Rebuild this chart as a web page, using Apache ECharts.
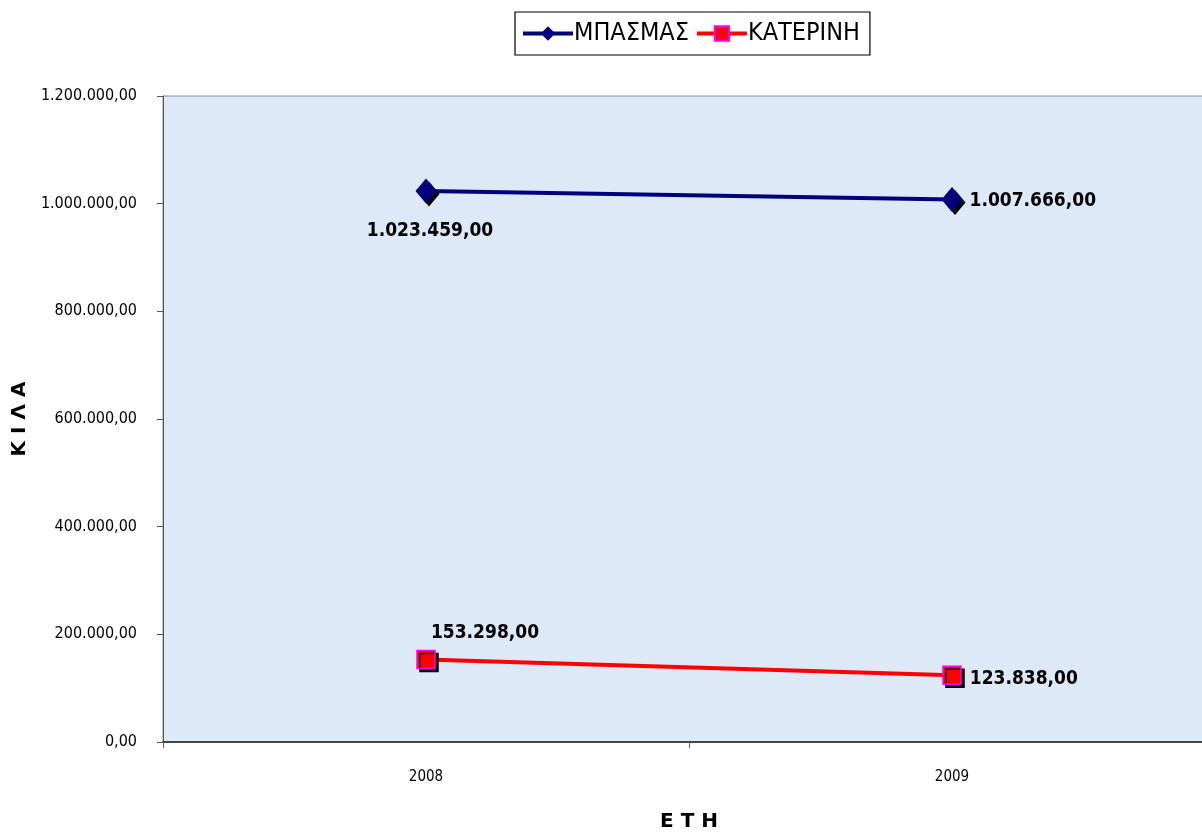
<!DOCTYPE html>
<html>
<head>
<meta charset="utf-8">
<script src="https://cdn.jsdelivr.net/npm/echarts@6/dist/echarts.min.js"></script>
<style>
  html, body { margin: 0; padding: 0; background: #fff; }
  #chart { width: 1202px; height: 834px; }
</style>
</head>
<body>
<div id="chart"></div>
<script>
// Years on the category axis
const years = ['2008', '2009'];
// Quantities in kilos per area
const mpasmasValues = [1023459, 1007666];
const katerinhValues = [153298, 123838];
// Series names
const seriesNames = ['ΜΠΑΣΜΑΣ', 'ΚΑΤΕΡΙΝΗ'];

const NARROW = '"Liberation Sans Narrow", "Arial Narrow", "DejaVu Sans Condensed", sans-serif';

// Greek number format: dot thousands separator, comma decimals
function fmt(v) {
  const parts = Number(v).toFixed(2).split('.');
  parts[0] = parts[0].replace(/\B(?=(\d{3})+(?!\d))/g, '.');
  return parts[0] + ',' + parts[1];
}

const chart = echarts.init(document.getElementById('chart'));

const labelBase = {
  show: true,
  fontFamily: NARROW,
  fontWeight: 'bold',
  fontSize: 19,
  color: '#000',
  formatter: p => fmt(p.value)
};

// per-point label placement
const mpasmasData = mpasmasValues.map((v, i) => ({
  value: v,
  label: i === 0 ? { position: 'bottom', offset: [4, 13] } : { position: 'right', offset: [2, 2] }
}));
const katerinhData = katerinhValues.map((v, i) => ({
  value: v,
  label: i === 0 ? { position: 'top', offset: [59, -2] } : { position: 'right', offset: [3, 4] }
}));

chart.setOption({
  animation: false,
  backgroundColor: '#ffffff',
  legend: {
    top: 12,
    left: 515,
    data: [
      { name: seriesNames[0], itemStyle: { shadowOffsetX: 0, shadowOffsetY: 0 } },
      { name: seriesNames[1], itemStyle: { shadowOffsetX: 0, shadowOffsetY: 0 } }
    ],
    itemWidth: 50,
    itemHeight: 18,
    itemGap: 6,
    padding: [9, 10, 9, 6],
    borderColor: '#000',
    borderWidth: 1.2,
    lineStyle: { width: 4 },
    textStyle: { fontFamily: NARROW, fontSize: 25, color: '#000', padding: [0, 0, 0, -4] }
  },
  grid: {
    left: 163,
    width: 1052,
    top: 96,
    bottom: 92,
    outerBoundsMode: 'none',
    show: true,
    backgroundColor: '#dde9f6',
    borderColor: '#8a8a8a',
    borderWidth: 1
  },
  xAxis: {
    type: 'category',
    data: years,
    boundaryGap: true,
    name: 'Ε Τ Η',
    nameLocation: 'middle',
    nameGap: 70,
    nameTextStyle: { fontFamily: '"DejaVu Sans", sans-serif', fontWeight: 'bold', fontSize: 20, color: '#000' },
    axisLine: { lineStyle: { color: '#444', width: 2 } },
    axisTick: { show: true, length: 6, lineStyle: { color: '#666', width: 1 } },
    axisLabel: { fontFamily: NARROW, fontSize: 15, color: '#000', margin: 28 },
    splitLine: { show: false }
  },
  yAxis: {
    type: 'value',
    min: 0,
    max: 1200000,
    interval: 200000,
    name: 'Κ Ι Λ Α',
    nameLocation: 'middle',
    nameGap: 124,
    nameRotate: 90,
    nameTextStyle: { fontFamily: '"DejaVu Sans", sans-serif', fontWeight: 'bold', fontSize: 20, color: '#000' },
    axisLine: { show: true, lineStyle: { color: '#555', width: 1 } },
    axisTick: { show: true, length: 6, lineStyle: { color: '#555' } },
    axisLabel: { fontFamily: NARROW, fontSize: 16, color: '#000', margin: 26, formatter: v => fmt(v) },
    splitLine: { show: false }
  },
  series: [
    {
      name: seriesNames[0],
      type: 'line',
      data: mpasmasData,
      symbol: 'diamond',
      symbolSize: [21, 25],
      lineStyle: { color: '#00007f', width: 4 },
      itemStyle: {
        color: '#00007f',
        shadowColor: '#000',
        shadowOffsetX: 3,
        shadowOffsetY: 3,
        shadowBlur: 0
      },
      label: labelBase,
      z: 3
    },
    {
      name: seriesNames[1],
      type: 'line',
      data: katerinhData,
      symbol: 'rect',
      symbolSize: 18,
      lineStyle: { color: '#ff0000', width: 4 },
      itemStyle: {
        color: '#ff0000',
        borderColor: '#ff00ff',
        borderWidth: 1.5,
        shadowColor: '#000',
        shadowOffsetX: 3,
        shadowOffsetY: 3,
        shadowBlur: 0
      },
      label: labelBase,
      z: 3
    }
  ]
});
</script>
</body>
</html>
